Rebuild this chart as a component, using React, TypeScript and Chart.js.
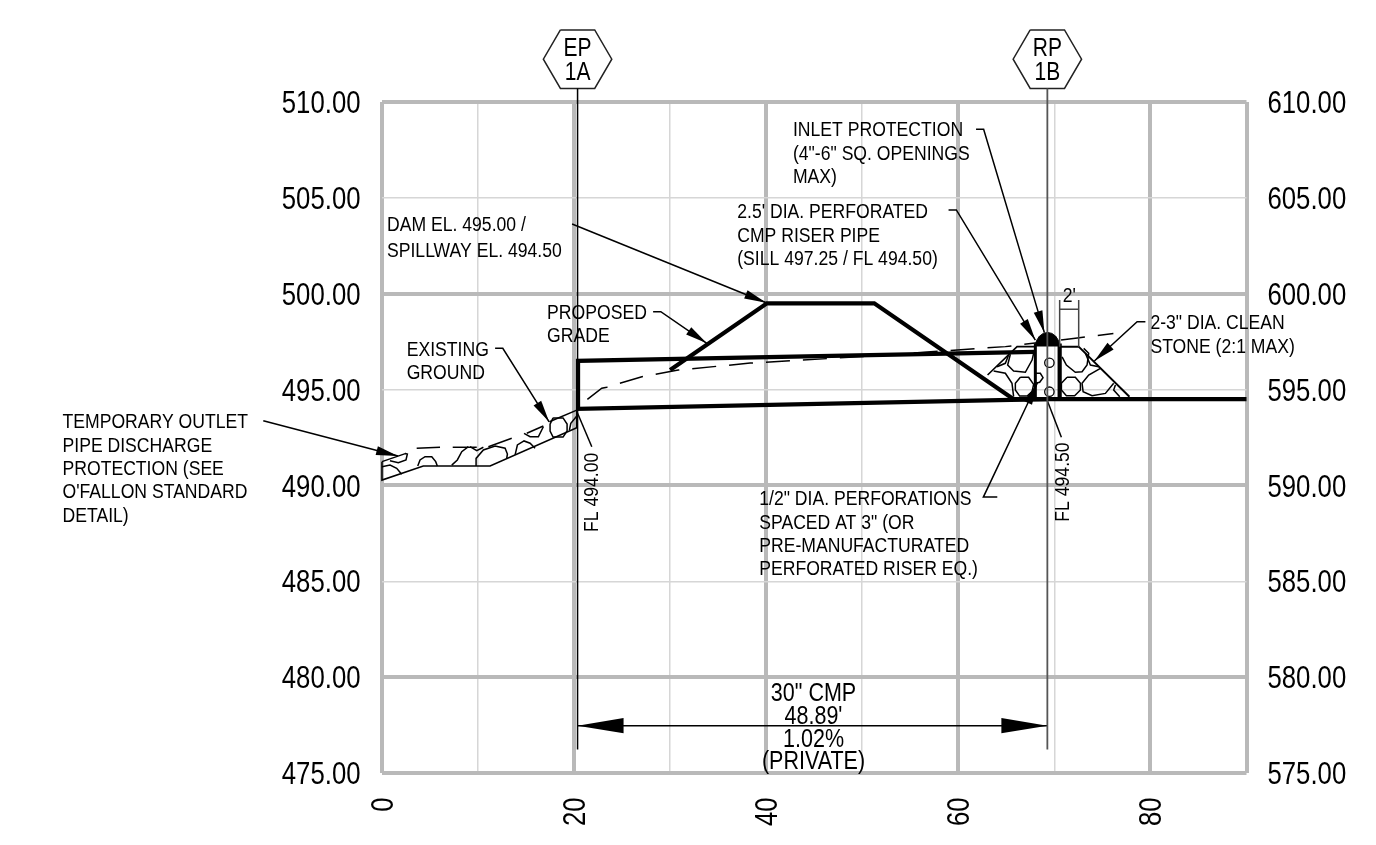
import React, { useEffect, useRef } from "react";
import { Chart, registerables } from "chart.js";

Chart.register(...registerables);

type P = [number, number];

const xTickLabels = [0, 20, 40, 60, 80];
const majorX = [0, 20, 40, 60, 80, 90];
const majorY = [510, 500, 490, 480, 475];

// Proposed works (station, elevation)
const pipeOutline: P[] = [[68.03, 496.97], [20.45, 496.5], [20.45, 494.0], [69.28, 494.5]];
const flatGrade: P[] = [[65.77, 494.5], [90, 494.5]];
const damGrade: P[] = [[30.03, 496.02], [40.1, 499.5], [51.27, 499.5], [65.77, 494.5]];
const existingGround: P[] = [
  [21.42, 494.49], [22.92, 495.07], [23.44, 495.12], [27.09, 495.67], [30.87, 496.02],
  [38.36, 496.38], [49.6, 496.71], [64.91, 497.24], [72.4, 497.69], [76.15, 497.93],
];
const riserLeft: P[] = [[68.03, 497.4], [68.03, 494.5]];
const riserRight: P[] = [[70.56, 497.4], [70.56, 494.5]];
const riserCap: P[] = [
  [68.03, 497.25], [68.15, 497.55], [68.45, 497.78], [68.85, 497.93], [69.3, 497.98],
  [69.75, 497.93], [70.15, 497.78], [70.45, 497.55], [70.57, 497.25],
];
const riserSeam: P[] = [[68.1, 497.35], [70.5, 497.35]];
const perforations: P[] = [[69.49, 496.4], [69.49, 494.89]];

// Outlet riprap
const outletOutline: P[] = [
  [0.05, 491.24], [0.05, 490.28], [4.35, 491.01], [11.3, 491.01], [20.32, 493.01], [20.32, 493.93],
];
const outletTop: P[][] = [
  [[0.05, 491.24], [2.55, 491.67]],
  [[3.66, 491.94], [6.09, 491.99]],
  [[7.41, 491.99], [9.91, 491.99]],
  [[11.12, 492.02], [13.55, 492.46]],
  [[15.12, 492.72], [16.84, 493.1]],
  [[17.47, 493.32], [20.32, 493.93]],
];
const outletRocks: P[][] = [
  [[0.05, 490.98], [0.89, 491.06], [1.58, 490.89], [2.1, 490.58]],
  [[2.45, 491.67], [2.69, 491.64], [2.55, 491.33], [1.75, 491.18], [0.88, 491.29]],
  [[3.77, 491.01], [4.01, 491.33], [4.53, 491.5], [5.23, 491.5], [5.64, 491.24], [5.81, 491.01]],
  [[7.31, 491.06], [7.89, 491.33], [8.35, 491.76], [9.04, 492.02]],
  [[9.21, 492.02], [9.91, 491.81], [10.6, 491.99]],
  [[9.84, 491.01], [9.84, 491.41], [10.6, 491.85], [11.82, 492.06], [12.86, 491.94], [13.1, 491.64], [13.03, 491.41]],
  [[13.9, 491.59], [14.14, 492.11], [14.83, 492.32], [15.46, 492.2], [15.98, 491.94]],
  [[14.83, 492.72], [15.46, 492.54], [16.32, 492.54], [16.84, 493.06]],
  [[17.85, 493.52], [18.89, 493.52], [19.31, 493.2], [19.31, 492.84], [18.89, 492.52], [17.85, 492.52], [17.54, 492.84], [17.54, 493.2], [17.85, 493.52]],
  [[19.55, 492.89], [19.7, 493.24], [20.32, 493.62]],
];

// Riser stone
const stoneLeft: P[] = [[63.06, 495.76], [66.13, 497.24], [68.03, 497.24]];
const stoneRight: P[] = [[70.63, 497.24], [72.54, 497.24], [77.82, 494.63]];
const stoneRocks: P[][] = [
  [[65.43, 496.84], [65.15, 496.28], [65.77, 495.97], [66.99, 495.9], [67.69, 496.54], [67.85, 496.89]],
  [[64.04, 496.19], [64.91, 496.37], [65.25, 496.8]],
  [[63.69, 495.97], [64.91, 495.85], [65.6, 495.33], [65.77, 494.63]],
  [[66.47, 495.64], [67.33, 495.64], [67.85, 495.27], [67.69, 494.89], [67.17, 494.66], [66.4, 494.66], [65.95, 494.98], [65.95, 495.33], [66.47, 495.64]],
  [[68.03, 495.85], [68.55, 495.85], [68.83, 495.62], [68.48, 495.38], [68.03, 495.33]],
  [[70.81, 496.71], [71.26, 496.28], [72.19, 495.9], [72.89, 495.93], [73.41, 496.28], [73.58, 496.89], [73.06, 497.15]],
  [[73.24, 496.89], [73.76, 496.28], [74.62, 496.19]],
  [[71.33, 495.64], [72.19, 495.64], [72.72, 495.33], [72.72, 494.98], [72.12, 494.68], [71.26, 494.68], [70.74, 494.98], [70.74, 495.33], [71.33, 495.64]],
  [[74.8, 496.11], [73.58, 495.76], [72.89, 495.33], [73.0, 494.89], [73.93, 494.68], [75.32, 494.8], [76.18, 495.33]],
  [[76.36, 495.24], [76.18, 494.98], [76.81, 494.63]],
];

// Station markers
const markerX = [20.4, 69.28];
const markerLabels = [["EP", "1A"], ["RP", "1B"]];
const markerBottom = 476.23;
const hexHalfFlat = 1.785;
const hexHalfWide = 3.56;
const hexTop = 513.76;
const hexMid = 512.23;
const hexBase = 510.71;

const dimY = 477.47;
const twoFoot: P[][] = [
  [[70.56, 499.67], [70.56, 497.24]],
  [[72.54, 499.67], [72.54, 497.24]],
  [[70.56, 499.19], [72.54, 499.19]],
];

// Leaders: last point is the arrow tip
const leaders: P[][] = [
  [[-13.06, 493.37], [-12.3, 493.37], [1.72, 491.53]],
  [[11.82, 497.15], [12.62, 497.15], [17.44, 493.32]],
  [[28.26, 499.06], [29.06, 499.06], [33.85, 497.41]],
  [[19.83, 503.64], [40.03, 499.53]],
  [[61.86, 508.58], [62.65, 508.58], [68.97, 497.97]],
  [[59.0, 504.37], [59.81, 504.37], [68.03, 497.58]],
  [[79.48, 498.54], [78.62, 498.54], [74.17, 496.49]],
  [[64.07, 489.39], [62.62, 489.39], [68.24, 495.34]],
];
const plainLeaders: P[][] = [
  [[21.88, 492.02], [20.38, 493.79]],
  [[70.74, 492.51], [69.25, 494.46]],
];

const notes = [
  { lines: ["TEMPORARY OUTLET", "PIPE DISCHARGE", "PROTECTION (SEE", "O'FALLON STANDARD", "DETAIL)"], x: -33.19, y: 493.36 },
  { lines: ["EXISTING", "GROUND"], x: 2.62, y: 497.15 },
  { lines: ["PROPOSED", "GRADE"], x: 17.23, y: 499.05 },
  { lines: ["DAM EL. 495.00 /", "SPILLWAY EL. 494.50"], x: 0.57, y: 503.64, step: 25.5 },
  { lines: ["INLET PROTECTION", "(4\"-6\" SQ. OPENINGS", "MAX)"], x: 42.81, y: 508.58 },
  { lines: ["2.5' DIA. PERFORATED", "CMP RISER PIPE", "(SILL 497.25 / FL 494.50)"], x: 37.01, y: 504.31 },
  { lines: ["2-3\" DIA. CLEAN", "STONE (2:1 MAX)"], x: 80.0, y: 498.52 },
  { lines: ["1/2\" DIA. PERFORATIONS", "SPACED AT 3\" (OR", "PRE-MANUFACTURATED", "PERFORATED RISER EQ.)"], x: 39.3, y: 489.34 },
];
const verticalNotes = [
  { text: "FL 494.00", x: 21.81, y: 487.57 },
  { text: "FL 494.50", x: 70.81, y: 488.11 },
];
const dimText = ["30\" CMP", "48.89'", "1.02%", "(PRIVATE)"];
const dimTextX = 44.95;
const dimTextY = [479.24, 478.02, 476.82, 475.68];
const markerTextY = [512.88, 511.62];

const BASE = '"Liberation Sans", Arial, sans-serif';

const pts = (a: P[]) => a.map(([x, y]) => ({ x, y }));
const line = (a: P[], width: number, color = "#000", extra: any = {}) => ({
  data: pts(a),
  showLine: true,
  borderColor: color,
  backgroundColor: color,
  borderWidth: width,
  pointRadius: 0,
  clip: false,
  tension: 0,
  ...extra,
});

const hexagon = (cx: number): P[] => [
  [cx - hexHalfFlat, hexTop], [cx + hexHalfFlat, hexTop], [cx + hexHalfWide, hexMid],
  [cx + hexHalfFlat, hexBase], [cx - hexHalfFlat, hexBase], [cx - hexHalfWide, hexMid],
  [cx - hexHalfFlat, hexTop],
];

const annotationPlugin = {
  id: "annotations",
  afterDatasetsDraw(chart: any) {
    const { ctx, chartArea } = chart;
    const sx = chart.scales.x;
    const sy = chart.scales.y;
    const sy2 = chart.scales.y2;
    const X = (v: number) => sx.getPixelForValue(v);
    const Y = (v: number) => sy.getPixelForValue(v);

    const head = (tip: P, from: P, len: number, half: number) => {
      const tx = X(tip[0]), ty = Y(tip[1]);
      const fx = X(from[0]), fy = Y(from[1]);
      const d = Math.hypot(tx - fx, ty - fy) || 1;
      const ux = (tx - fx) / d, uy = (ty - fy) / d;
      ctx.beginPath();
      ctx.moveTo(tx, ty);
      ctx.lineTo(tx - ux * len - uy * half, ty - uy * len + ux * half);
      ctx.lineTo(tx - ux * len + uy * half, ty - uy * len - ux * half);
      ctx.closePath();
      ctx.fill();
    };

    // x, y: anchor on the vertical middle of the capitals
    const text = (s: string, x: number, y: number, size: number, squeeze: number, align: string, rot = 0) => {
      ctx.save();
      ctx.translate(x, y);
      if (rot) ctx.rotate(rot);
      ctx.scale(squeeze, 1);
      ctx.font = `${size}px ${BASE}`;
      ctx.textAlign = align;
      ctx.textBaseline = "alphabetic";
      ctx.fillText(s, 0, 0.358 * size);
      ctx.restore();
    };

    ctx.save();
    ctx.fillStyle = "#000";
    leaders.forEach((l) => head(l[l.length - 1], l[l.length - 2], 22, 4.5));
    head([markerX[0], dimY], [markerX[1], dimY], 46, 7.7);
    head([markerX[1], dimY], [markerX[0], dimY], 46, 7.7);

    notes.forEach((n: any) => {
      n.lines.forEach((s: string, i: number) =>
        text(s, X(n.x), Y(n.y) + i * (n.step ?? 23.4), 20, 0.88, "left"),
      );
    });
    verticalNotes.forEach((n) => text(n.text, X(n.x), Y(n.y), 20, 0.88, "left", -Math.PI / 2));
    text("2'", X(71.57), Y(499.93), 20, 0.88, "center");
    dimText.forEach((s, i) => text(s, X(dimTextX), Y(dimTextY[i]), 25, 0.86, "center"));
    markerX.forEach((mx, k) =>
      markerLabels[k].forEach((s, i) => text(s, X(mx), Y(markerTextY[i]), 25, 0.84, "center")),
    );

    // Axis labels: taken from the scales' own ticks, drawn condensed like the CAD font
    sy.ticks.forEach((t: any) =>
      text(t.label, chartArea.left - 21, sy.getPixelForValue(t.value), 31, 0.83, "right"),
    );
    sy2.ticks.forEach((t: any) =>
      text(t.label, chartArea.right + 21, sy2.getPixelForValue(t.value), 31, 0.83, "left"),
    );
    sx.ticks.forEach((t: any) => {
      if (t.label) text(t.label, sx.getPixelForValue(t.value), chartArea.bottom + 24.5, 31, 0.83, "right", -Math.PI / 2);
    });
    ctx.restore();
  },
};

export default function App() {
  const ref = useRef<HTMLCanvasElement>(null);
  useEffect(() => {
    const datasets: any[] = [
      line([[markerX[0], hexBase], [markerX[0], markerBottom]], 1.5, "#000"),
      line([[markerX[1], hexBase], [markerX[1], markerBottom]], 1.8, "#555"),
      line([[markerX[0], dimY], [markerX[1], dimY]], 1.5),
      ...markerX.map((mx) => line(hexagon(mx), 1.5, "#222")),
      ...twoFoot.map((s) => line(s, 1.5, "#444")),
      ...outletTop.map((s) => line(s, 1.5)),
      ...outletRocks.map((s) => line(s, 1.5)),
      line(outletOutline, 1.6),
      ...stoneRocks.map((s) => line(s, 1.5)),
      line(stoneLeft, 1.6),
      line(stoneRight, 2),
      line(existingGround, 1.5, "#000", { borderDash: [24, 13] }),
      ...leaders.map((s) => line(s, 1.5)),
      ...plainLeaders.map((s) => line(s, 1.5)),
      line(pipeOutline, 4.2, "#000", { borderJoinStyle: "miter" }),
      line(flatGrade, 4.2),
      line(damGrade, 4.2),
      line(riserLeft, 3),
      line(riserRight, 4.2),
      line(riserCap, 1, "#000", { fill: "shape" }),
      line(riserSeam, 1, "#fff", { borderDash: [3, 3] }),
      {
        data: pts(perforations),
        showLine: false,
        pointRadius: 4.7,
        pointBorderColor: "#000",
        pointBackgroundColor: "rgba(0,0,0,0)",
        pointBorderWidth: 1.3,
        clip: false,
      },
    ];

    const gridFor = (major: number[]) => ({
      drawTicks: false,
      color: (c: any) => (major.includes(c.tick?.value) ? "#b9b9b9" : "#d6d6d6"),
      lineWidth: (c: any) => (major.includes(c.tick?.value) ? 4 : 1.5),
    });

    const chart = new Chart(ref.current!, {
      type: "scatter",
      data: { datasets },
      plugins: [annotationPlugin as any],
      options: {
        animation: false,
        responsive: false,
        devicePixelRatio: 1,
        layout: { padding: { top: 102, left: 0, right: 0, bottom: 0 } },
        plugins: { legend: { display: false }, tooltip: { enabled: false }, title: { display: false } },
        scales: {
          x: {
            type: "linear",
            min: 0,
            max: 90,
            afterFit: (s: any) => { s.height = 72; },
            border: { display: false },
            grid: gridFor(majorX),
            ticks: {
              display: false,
              stepSize: 10,
              autoSkip: false,
              callback: (v: any) => (xTickLabels.includes(v) ? String(v) : ""),
            },
          },
          y: {
            type: "linear",
            position: "left",
            min: 475,
            max: 510,
            afterFit: (s: any) => { s.width = 381.5; },
            border: { display: false },
            grid: gridFor(majorY),
            ticks: {
              display: false,
              stepSize: 5,
              autoSkip: false,
              callback: (v: any) => Number(v).toFixed(2),
            },
          },
          y2: {
            type: "linear",
            position: "right",
            min: 575,
            max: 610,
            afterFit: (s: any) => { s.width = 129.5; },
            border: { display: false },
            grid: { display: false, drawTicks: false },
            ticks: {
              display: false,
              stepSize: 5,
              autoSkip: false,
              callback: (v: any) => Number(v).toFixed(2),
            },
          },
        },
      } as any,
    });
    return () => chart.destroy();
  }, []);

  return (
    <canvas
      ref={ref}
      width={1376}
      height={845}
      style={{ position: "absolute", left: 0, top: 0, width: 1376, height: 845, display: "block" }}
    />
  );
}
